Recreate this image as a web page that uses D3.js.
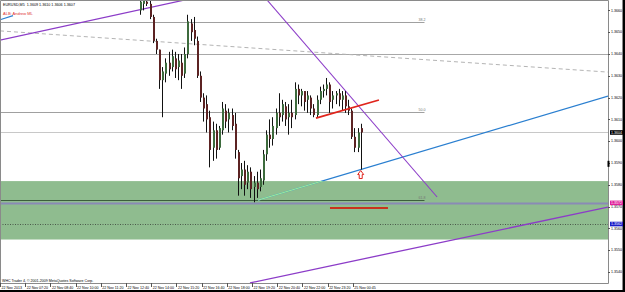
<!DOCTYPE html>
<html>
<head>
<meta charset="utf-8">
<script src="https://cdn.jsdelivr.net/npm/d3@7"></script>
<style>
	body { margin: 0; background: #000; }
	svg { display: block; }
	text { font-family: "Liberation Sans", Arial, sans-serif; }
</style>
</head>
<body>
<svg id="chart"></svg>
<script>
const width = 625, height = 292;
const plotR = 608, plotB = 283;

// EURUSD M5, bar 0 = 22 Nov 06:00. candles read every 2nd bar starting at bar 89
const firstBar = 89, barStep = 2;
const highs = [1.3666, 1.3667, 1.3666, 1.3665, 1.3658, 1.3647, 1.3642, 1.3634, 1.3638, 1.3641,
	1.3642, 1.3641, 1.3640, 1.3640, 1.3643, 1.3658, 1.3656, 1.3657, 1.3648, 1.3632,
	1.3622, 1.3621, 1.3614, 1.3609, 1.3608, 1.3607, 1.3618, 1.3617, 1.3615, 1.3615,
	1.3613, 1.3596, 1.3590, 1.3591, 1.3589, 1.3588, 1.3584, 1.3586, 1.3587, 1.3596,
	1.3605, 1.3610, 1.3611, 1.3615, 1.3622, 1.3619, 1.3618, 1.3617, 1.3619, 1.3627,
	1.3626, 1.3624, 1.3623, 1.3623, 1.3621, 1.3617, 1.3621, 1.3625, 1.3626, 1.3629,
	1.3627, 1.3623, 1.3623, 1.3624, 1.3623, 1.3623, 1.3619, 1.3615, 1.3606, 1.3606, 1.3608];
const lows = [1.3658, 1.3660, 1.3662, 1.3656, 1.3645, 1.3640, 1.3624, 1.3611, 1.3627, 1.3630,
	1.3632, 1.3629, 1.3628, 1.3624, 1.3629, 1.3638, 1.3646, 1.3644, 1.3629, 1.3618,
	1.3609, 1.3604, 1.3588, 1.3591, 1.3592, 1.3596, 1.3603, 1.3606, 1.3604, 1.3605,
	1.3592, 1.3575, 1.3578, 1.3575, 1.3578, 1.3574, 1.3572, 1.3574, 1.3577, 1.3580,
	1.3591, 1.3597, 1.3598, 1.3603, 1.3607, 1.3609, 1.3607, 1.3603, 1.3606, 1.3610,
	1.3617, 1.3616, 1.3614, 1.3613, 1.3612, 1.3611, 1.3611, 1.3617, 1.3620, 1.3621,
	1.3613, 1.3615, 1.3617, 1.3616, 1.3614, 1.3613, 1.3612, 1.3601, 1.3595, 1.3595, 1.3587];
const opens = [1.3660, 1.3663, 1.3664, 1.3663, 1.3657, 1.3646, 1.3642, 1.3628, 1.3631, 1.3636,
	1.3634, 1.3638, 1.3634, 1.3636, 1.3631, 1.3640, 1.3654, 1.3651, 1.3646, 1.3630,
	1.3620, 1.3617, 1.3611, 1.3597, 1.3605, 1.3597, 1.3605, 1.3614, 1.3610, 1.3612,
	1.3608, 1.3595, 1.3584, 1.3587, 1.3581, 1.3586, 1.3579, 1.3581, 1.3579, 1.3582,
	1.3594, 1.3603, 1.3601, 1.3606, 1.3613, 1.3612, 1.3616, 1.3611, 1.3613, 1.3612,
	1.3624, 1.3621, 1.3623, 1.3619, 1.3620, 1.3615, 1.3612, 1.3619, 1.3623, 1.3624,
	1.3626, 1.3619, 1.3621, 1.3622, 1.3619, 1.3621, 1.3616, 1.3614, 1.3602, 1.3597, 1.3606];
const closes = [1.3664, 1.3665, 1.3663, 1.3657, 1.3646, 1.3642, 1.3628, 1.3632, 1.3636, 1.3633,
	1.3639, 1.3633, 1.3637, 1.3630, 1.3640, 1.3655, 1.3650, 1.3647, 1.3630, 1.3620,
	1.3615, 1.3610, 1.3596, 1.3605, 1.3596, 1.3606, 1.3615, 1.3609, 1.3613, 1.3607,
	1.3596, 1.3583, 1.3587, 1.3580, 1.3586, 1.3578, 1.3581, 1.3578, 1.3583, 1.3594,
	1.3603, 1.3601, 1.3607, 1.3613, 1.3611, 1.3617, 1.3610, 1.3613, 1.3611, 1.3624,
	1.3621, 1.3623, 1.3618, 1.3621, 1.3615, 1.3612, 1.3619, 1.3623, 1.3624, 1.3626,
	1.3618, 1.3621, 1.3622, 1.3619, 1.3621, 1.3616, 1.3614, 1.3602, 1.3597, 1.3604, 1.3604];

const priceTicks = [1.3540, 1.3550, 1.3560, 1.3570, 1.3580, 1.3590, 1.3600,
	1.3610, 1.3620, 1.3630, 1.3640, 1.3650, 1.3660];
const timeTicks = [0, 16, 32, 48, 64, 80, 96, 112, 128, 144, 160, 176, 192, 208, 224];
const timeLabels = ["22 Nov 2013", "22 Nov 07:20", "22 Nov 08:40", "22 Nov 10:00", "22 Nov 11:20",
	"22 Nov 12:40", "22 Nov 14:00", "22 Nov 15:20", "22 Nov 16:40", "22 Nov 18:00", "22 Nov 19:20",
	"22 Nov 20:40", "22 Nov 22:00", "22 Nov 23:20", "25 Nov 00:45"];

// objects on the chart, [bar, price]
const purpleUpper = [[0, 1.36464], [117.5, 1.36648]];
const purpleLower = [[158.7, 1.35350], [386, 1.35698]];
const purpleDown = [[169.5, 1.36648], [277.5, 1.35744]];
const blueRay = [[163.8, 1.35730], [386, 1.36207]];
const blueShort = [[0, 1.36557], [8.25, 1.36576]];
const grayDashed = [[0, 1.36506], [386, 1.36317]];
const redLine = [[200.6, 1.36106], [240.6, 1.36189]];
const redFlat = [[209.5, 1.35694], [246.3, 1.35694]];
const fibLabels = ["38.2", "50.0", "61.8"];
const fibPrices = [1.36547, 1.36136, 1.35730];
const fibEnd = 269.5;
const levelLine = 1.3640;
const slateLine = 1.35717;
const dottedLine = 1.35620;
const zone = [1.35817, 1.35549];
const header = "EURUSD,M5  1.3609 1.3610 1.3606 1.3607";
const indicatorName = "ALB: Andrew ML";
const copyright = "WHC Trader 4, © 2001-2009 MetaQuotes Software Corp.";

const candles = highs.map((h, k) => ({
	i: firstBar + k * barStep, h, l: lows[k], o: opens[k], c: closes[k]
}));
const last = candles[candles.length - 1];

const x = d3.scaleLinear().domain([0, 386]).range([0, plotR]);
const y = d3.scaleLinear().domain([1.3540, 1.3640]).range([272, 54]);
const fmt = d3.format(".4f");
const line = d3.line().x(d => x(d[0])).y(d => y(d[1]));

const svg = d3.select("#chart").attr("width", width).attr("height", height);

// window + chart background
svg.append("rect").attr("width", width).attr("height", height).attr("fill", "#000");
svg.append("rect").attr("width", 623).attr("height", 290).attr("fill", "#fff");

svg.append("defs").append("clipPath").attr("id", "plot")
	.append("rect").attr("width", plotR).attr("height", plotB);
svg.select("defs").append("clipPath").attr("id", "zoneClip")
	.append("rect").attr("x", 0).attr("width", plotR)
	.attr("y", y(zone[0])).attr("height", y(zone[1]) - y(zone[0]));

const g = svg.append("g").attr("clip-path", "url(#plot)");

// green zone
g.append("rect")
	.attr("x", 0).attr("width", plotR)
	.attr("y", y(zone[0])).attr("height", y(zone[1]) - y(zone[0]))
	.attr("fill", "#8fbc8f");

// horizontal stuff
function hline(p, x1, x2, color, w, dash) {
	g.append("line")
		.attr("x1", x1).attr("x2", x2)
		.attr("y1", Math.round(y(p)) + 0.5).attr("y2", Math.round(y(p)) + 0.5)
		.attr("stroke", color).attr("stroke-width", w)
		.attr("stroke-dasharray", dash || null);
}
hline(levelLine, 0, plotR, "#a8a8a8", 1);
hline(last.c, 0, plotR, "#c8c8c8", 1);
hline(dottedLine, 0, plotR, "#4a5a4a", 1, "1,1.5");
fibPrices.forEach((p, n) => {
	hline(p, 0, x(fibEnd), n === 2 ? "#3c5e3c" : "#a0a0a0", 1);
	g.append("text")
		.attr("x", x(fibEnd) + 1).attr("y", y(p) - 1)
		.attr("text-anchor", "end")
		.attr("font-size", 3.6).attr("fill", "#777")
		.text(fibLabels[n]);
});
hline(slateLine, 0, plotR, "#8a8ab6", 1.8);

// trend lines
function tline(pts, color, w, dash) {
	return g.append("path").datum(pts)
		.attr("d", line).attr("fill", "none")
		.attr("stroke", color).attr("stroke-width", w)
		.attr("stroke-dasharray", dash || null);
}
tline(grayDashed, "#b4b4b4", 1, "4,3");
tline(blueShort, "#2a7fd0", 1.2);
tline(blueRay, "#2a7fd0", 1.2);
// blue ray inside the zone shows up light green
tline(blueRay, "#9ae89a", 1.2).attr("clip-path", "url(#zoneClip)");
tline(purpleUpper, "#8c3cc8", 1.3);
tline(purpleLower, "#8c3cc8", 1.3);
tline(purpleDown, "#8c3cc8", 1.1);

// candles
const cg = g.append("g");
cg.selectAll("line")
	.data(candles)
	.join("line")
	.attr("x1", d => Math.round(x(d.i)) + 0.5).attr("x2", d => Math.round(x(d.i)) + 0.5)
	.attr("y1", d => y(d.h)).attr("y2", d => y(d.l))
	.attr("stroke", "#111").attr("stroke-width", 1);
cg.selectAll("rect")
	.data(candles)
	.join("rect")
	.attr("x", d => Math.round(x(d.i)))
	.attr("width", 2)
	.attr("y", d => y(Math.max(d.o, d.c)))
	.attr("height", d => Math.max(1, Math.abs(y(d.o) - y(d.c))))
	.attr("fill", d => d.c >= d.o ? "#3d6b3d" : "#5c2323");

// red lines sit on top of the candles
tline(redLine, "#e0241c", 1.8);
tline(redFlat, "#c8321e", 2);

// red arrow under the last low
const ax = x(last.i), ay = y(last.l) + 1;
g.append("path")
	.attr("d", `M${ax},${ay} l3,4 h-1.5 v4 h-3 v-4 h-1.5 Z`)
	.attr("fill", "#fff").attr("stroke", "#e0241c").attr("stroke-width", 1);

// header texts
svg.append("text").attr("x", 3).attr("y", 5.5)
	.attr("font-size", 3.7).attr("fill", "#000")
	.attr("xml:space", "preserve").style("white-space", "pre")
	.text(header);
svg.append("text").attr("x", 3).attr("y", 14.5)
	.attr("font-size", 4).attr("fill", "#e03030")
	.text(indicatorName);
svg.append("text").attr("x", 2).attr("y", 282)
	.attr("font-size", 3.6).attr("fill", "#000")
	.text(copyright);

// frame
svg.append("path")
	.attr("d", `M0.5,0.5 H${plotR + 0.5} V${plotB + 0.5} H0.5 Z`)
	.attr("fill", "none").attr("stroke", "#8a8a8a");
svg.append("line")
	.attr("x1", 622.5).attr("x2", 622.5).attr("y1", 0).attr("y2", 290)
	.attr("stroke", "#8a8a8a");

// price axis
const pa = svg.append("g");
pa.selectAll("line")
	.data(priceTicks)
	.join("line")
	.attr("x1", plotR).attr("x2", plotR + 2)
	.attr("y1", d => Math.round(y(d)) + 0.5).attr("y2", d => Math.round(y(d)) + 0.5)
	.attr("stroke", "#555");
pa.selectAll("text")
	.data(priceTicks)
	.join("text")
	.attr("x", plotR + 3).attr("y", d => y(d))
	.attr("dy", "0.35em")
	.attr("font-size", 3.6).attr("fill", "#000")
	.text(fmt);

// marker on the axis
svg.append("rect").attr("x", plotR - 0.5).attr("width", 2)
	.attr("y", y(1.3591)).attr("height", 6).attr("fill", "#000");

// price boxes
function priceBox(p, bg) {
	svg.append("rect").attr("x", plotR + 2).attr("width", 13)
		.attr("y", y(p) - 2.3).attr("height", 4.6).attr("fill", bg);
	svg.append("text").attr("x", plotR + 3).attr("y", y(p)).attr("dy", "0.35em")
		.attr("font-size", 3.6).attr("fill", "#fff").text(fmt(p));
}
priceBox(last.c, "#000");
priceBox(slateLine, "#e0239b");
priceBox(dottedLine, "#1c1cc8");

// time axis
const ta = svg.append("g");
ta.selectAll("line")
	.data(timeTicks)
	.join("line")
	.attr("x1", d => Math.round(x(d)) + 0.5).attr("x2", d => Math.round(x(d)) + 0.5)
	.attr("y1", plotB).attr("y2", plotB + 4)
	.attr("stroke", "#555");
ta.selectAll("text")
	.data(timeTicks)
	.join("text")
	.attr("x", d => x(d) + 1.5).attr("y", 289)
	.attr("font-size", 3.6).attr("fill", "#000")
	.text((d, n) => timeLabels[n]);
</script>
</body>
</html>
